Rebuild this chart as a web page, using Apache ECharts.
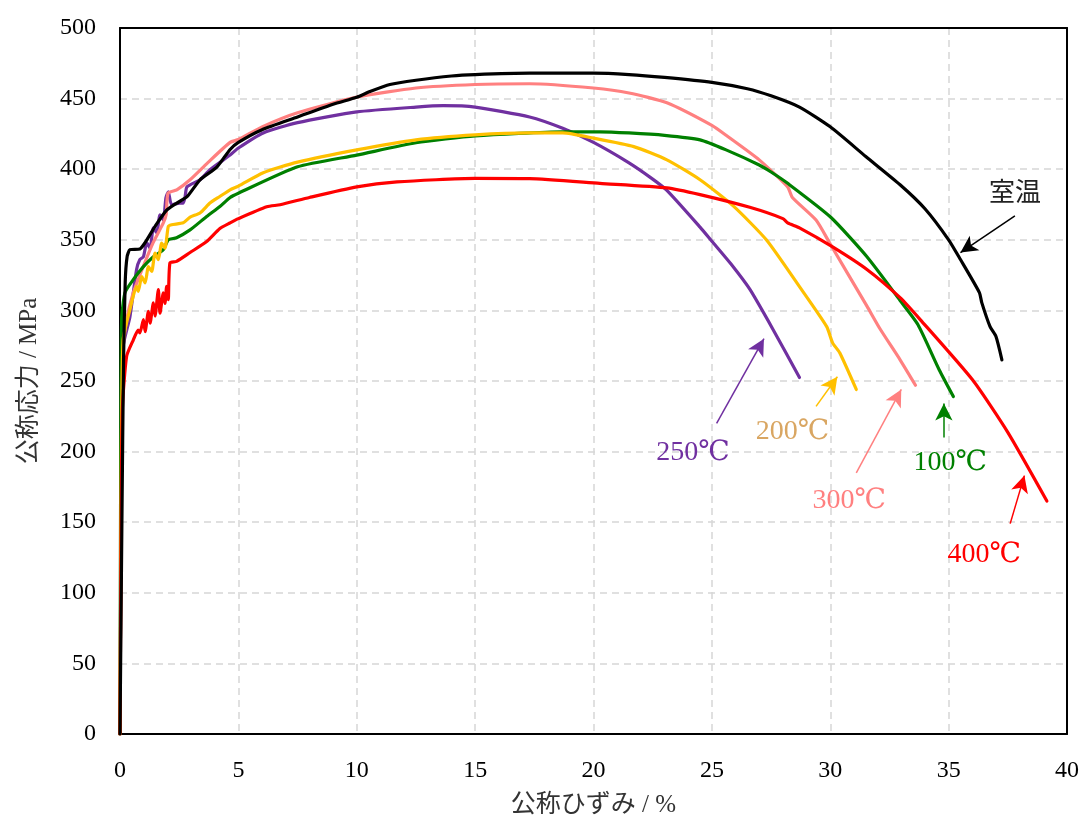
<!DOCTYPE html>
<html>
<head>
<meta charset="utf-8">
<script src="https://cdn.jsdelivr.net/npm/echarts@6/dist/echarts.min.js"></script>
<style>html,body{margin:0;padding:0;background:#fff}#c{width:1086px;height:823px}</style>
</head>
<body>
<div id="c"></div>
<script>
// ---- data (strain %, stress MPa) ----
const xTicks = [0, 5, 10, 15, 20, 25, 30, 35, 40];
const yTicks = [0, 50, 100, 150, 200, 250, 300, 350, 400, 450, 500];

const roomTemp = [[0,0],[0.08,150],[0.15,265],[0.22,320],[0.3,338],[0.42,343],[0.84,343.5],[1.06,348],[1.5,360],[1.97,371],[2.4,376],[2.83,380.5],[3.38,392.5],[4.1,401.7],[4.65,414],[5,419],[6,428],[7.5,437],[9,446],[10,451],[10.56,455],[11.4,460],[12.5,463],[14,466],[15,467],[17.3,468],[20,468],[21.5,467],[23,465],[25,461.5],[26.5,457],[27.5,452],[28.7,444],[30,430],[31.5,409],[32.95,389],[34,372],[35,350],[35.5,336],[36.3,312.6],[36.4,305.5],[36.75,288.5],[37.0,281.5],[37.25,265]];

const t100 = [[0,0],[0.03,200],[0.07,293.5],[0.21,312.6],[0.56,321.8],[0.99,331],[1.41,338],[1.83,343],[2.04,350],[2.39,351.5],[2.96,357],[3.66,366.5],[4.22,373.6],[4.65,380],[5,383],[7.5,401.7],[10,410],[12.5,418.7],[15,423.6],[18.7,426.5],[20.27,426.5],[21.5,425.7],[23,424],[24.5,420.8],[25.6,413.7],[27,403],[27.5,398],[28.2,390],[30,366.3],[31.55,338],[32.95,307],[33.7,290],[34.6,258],[35.2,239]];

const t200 = [[0,0],[0.06,200],[0.13,279],[0.42,300.6],[0.7,317],[0.77,313.5],[0.92,324],[1.06,319.4],[1.2,331],[1.34,327.6],[1.48,340.6],[1.62,336],[1.76,347.7],[1.9,344],[2.04,359.5],[2.18,360.7],[2.67,362],[2.96,366],[3.38,369],[3.8,376],[4.2,380.5],[4.65,385.4],[5,388],[6.05,397.5],[7.5,405],[10,413.7],[12.5,420.8],[15,424.3],[17.3,425.7],[18.7,425.7],[20,422],[21.7,416],[23.1,406.6],[24.5,392.5],[25.9,374],[27.3,350],[28.7,316.8],[29.85,288.5],[30.1,277],[30.4,270],[31.1,244]];

const t250 = [[0,0],[0.06,200],[0.13,274],[0.42,295.6],[0.7,329],[0.84,336],[0.99,338],[1.13,348],[1.27,344],[1.41,358.5],[1.55,355],[1.69,367.7],[1.83,364],[1.94,379.7],[2.04,384],[2.18,374.8],[2.53,376],[2.67,376],[2.75,380.5],[2.83,387.5],[3.38,392.5],[3.8,399.6],[4.65,410],[5,415],[6.05,425.7],[7.5,433],[10,440.6],[12.5,444],[13.65,445],[15,444],[17.3,437],[18.7,429],[20,419],[21.5,404.5],[22.5,393],[23.1,385],[24.5,359],[25,349],[25.8,333],[26.6,315],[27.6,286],[28.7,252.5]];

const t300 = [[0,0],[0.04,150],[0.08,265],[0.28,293.5],[0.56,312.6],[0.98,331],[1.4,348],[1.83,362],[1.95,368],[2.03,383],[2.4,385.4],[2.96,392.5],[3.7,404.5],[4.65,419],[5,421],[6,430],[7.5,440],[10,451],[12.5,457.5],[15,460],[17.3,460.5],[20,457.5],[21.5,454],[23.1,447],[25,431],[25.6,424],[27,406.6],[28.2,387.5],[28.4,380],[29.4,364],[30,347],[31.55,303],[32.1,287],[32.95,265],[33.6,247]];

const t400 = [[0,0],[0.05,150],[0.1,230],[0.28,267.5],[0.56,279],[0.77,286],[0.84,284],[0.99,293.5],[1.06,285],[1.2,299.4],[1.27,291],[1.41,305.3],[1.48,296],[1.62,314.7],[1.69,298],[1.83,312.4],[1.9,305],[1.97,317],[2.04,307.6],[2.11,333.6],[2.39,334.7],[2.96,341],[3.66,348.8],[4.22,358],[4.65,362],[5,365],[6.2,373.4],[6.76,374.8],[8,380],[10,387.5],[11.7,391],[15,393.5],[17.3,393.3],[20.27,390],[23.1,386.8],[24.5,382],[26.6,373],[28,365],[28.2,362],[28.7,358.5],[30.1,345],[31.55,329],[32.95,309],[33.8,293.5],[36,251],[37.5,213.6],[39.15,165]];

// annotations
const annoText = ['室温', '250℃', '200℃', '300℃', '100℃', '400℃'];
const annoTextPos = [[37.8,382],[24.2,199],[28.4,214],[30.8,165],[35.06,192],[36.5,127]];
const annoFrom = [[37.8,367],[25.2,220],[29.4,232],[31.1,185],[34.8,210],[37.6,149]];
const annoTo = [[35.5,341],[27.2,280],[30.3,253],[33.0,244],[34.8,234],[38.2,183]];
const annoTextColor = ['#222222','#7030A0','#D9A662','#FF8080','#008000','#FF0000'];
const annoArrowColor = ['#000000','#7030A0','#FFC000','#FF8080','#008000','#FF0000'];

// ---- chart ----
const serif = "'Liberation Serif', 'DejaVu Serif', 'Noto Sans CJK JP', serif";
const chart = echarts.init(document.getElementById('c'), null, {renderer: 'canvas'});

function lineSeries(name, data, color, z) {
  return {
    name, type: 'line', data, showSymbol: false, symbol: 'none', z, smooth: 0.2,
    lineStyle: {color, width: 3.2, join: 'round', cap: 'round'}, itemStyle: {color},
    emphasis: {disabled: true}, silent: true
  };
}

const curves = [
  lineSeries('250℃', t250, '#7030A0', 2),
  lineSeries('300℃', t300, '#FF8080', 3),
  lineSeries('100℃', t100, '#008000', 4),
  lineSeries('200℃', t200, '#FFC000', 5),
  lineSeries('400℃', t400, '#FF0000', 6),
  lineSeries('室温', roomTemp, '#000000', 7)
];

const annoSeries = {
  type: 'line', data: [], silent: true, z: 8,
  markLine: {
    silent: true, animation: false,
    symbol: ['none', 'arrow'], symbolSize: [13, 17],
    label: {show: false},
    data: annoFrom.map((f, i) => [
      {coord: f, lineStyle: {color: annoArrowColor[i], width: 1.5, type: 'solid'}, itemStyle: {color: annoArrowColor[i]}},
      {coord: annoTo[i]}
    ])
  },
  markPoint: {
    silent: true, animation: false,
    symbol: 'circle', symbolSize: 1,
    itemStyle: {color: 'rgba(0,0,0,0)'},
    data: annoTextPos.map((p, i) => ({
      coord: p,
      label: {show: true, position: 'inside', formatter: annoText[i], color: annoTextColor[i],
        fontSize: i === 0 ? 26 : 28, fontFamily: serif}
    }))
  }
};

const gridLine = {show: true, lineStyle: {color: '#D6D6D6', width: 1.5, type: [7, 5]}};
const frameLine = {show: true, onZero: false, lineStyle: {color: '#000', width: 2}};

chart.setOption({
  animation: false,
  backgroundColor: '#fff',
  grid: {left: 120, right: 19, top: 28, bottom: 88},
  xAxis: [{
    type: 'value', min: xTicks[0], max: xTicks[xTicks.length - 1], interval: 5,
    axisLine: frameLine, axisTick: {show: false}, splitLine: gridLine,
    axisLabel: {color: '#000', fontSize: 24, fontFamily: serif, margin: 25},
    name: '公称ひずみ / %', nameLocation: 'middle', nameGap: 59,
    nameTextStyle: {color: '#333', fontSize: 25, fontFamily: serif}
  }, {
    type: 'value', position: 'top', min: xTicks[0], max: xTicks[xTicks.length - 1], interval: 5,
    axisLine: frameLine, axisTick: {show: false}, splitLine: {show: false}, axisLabel: {show: false}
  }],
  yAxis: [{
    type: 'value', min: yTicks[0], max: yTicks[yTicks.length - 1], interval: 50,
    axisLine: frameLine, axisTick: {show: false}, splitLine: gridLine,
    axisLabel: {color: '#000', fontSize: 24, fontFamily: serif, margin: 24},
    name: '公称応力 / MPa', nameLocation: 'middle', nameGap: 78,
    nameTextStyle: {color: '#333', fontSize: 25, fontFamily: serif}
  }, {
    type: 'value', position: 'right', min: yTicks[0], max: yTicks[yTicks.length - 1], interval: 50,
    axisLine: frameLine, axisTick: {show: false}, splitLine: {show: false}, axisLabel: {show: false}
  }],
  series: curves.concat([annoSeries])
});
</script>
</body>
</html>
